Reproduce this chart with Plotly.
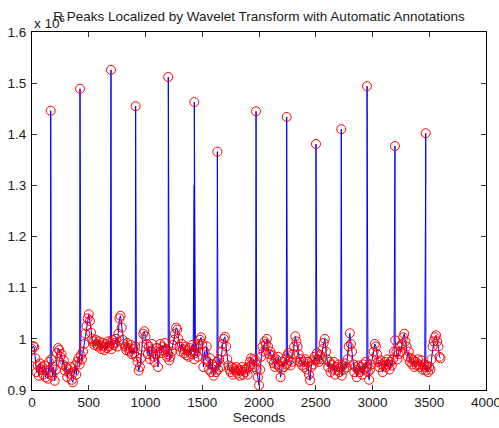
import numpy as np
import plotly.graph_objects as go

# Baseline signal (x 10^6), sampled every 10 seconds from 0 to 3600 s
sample_step = 10
base_values = [
    0.980, 0.986, 0.984, 0.962, 0.935, 0.948, 0.928, 0.952, 0.940, 0.945,
    0.930, 0.948, 0.925, 0.938, 0.922, 0.955, 0.935, 0.960, 0.928, 0.945,
    0.918, 0.940, 0.972, 0.982, 0.978, 0.965, 0.970, 0.950, 0.958, 0.938,
    0.945, 0.925, 0.940, 0.932, 0.945, 0.920, 0.915, 0.935, 0.948, 0.930,
    0.955, 0.962, 0.950, 0.968, 0.960, 0.975, 0.990, 1.010, 1.025, 1.040,
    1.048, 1.035, 1.012, 1.000, 0.995, 0.988, 0.998, 0.990, 0.985, 0.995,
    0.988, 0.980, 0.992, 0.985, 0.978, 0.990, 0.982, 0.995, 0.986, 0.992,
    0.980, 0.998, 0.988, 0.992, 1.000, 0.985, 1.010, 1.040, 1.045, 1.022,
    0.998, 0.990, 0.985, 0.978, 0.992, 0.982, 0.975, 0.988, 0.970, 0.980,
    0.972, 0.985, 0.965, 0.955, 0.938, 0.945, 0.962, 0.985, 1.010, 1.015,
    1.005, 0.990, 0.970, 0.985, 0.960, 0.975, 0.990, 0.965, 0.955, 0.970,
    0.982, 0.945, 0.975, 0.990, 0.972, 0.985, 0.978, 0.992, 0.980, 0.965,
    0.970, 0.958, 0.965, 0.975, 0.988, 0.998, 1.010, 1.022, 1.018, 1.000,
    0.985, 0.975, 0.990, 0.980, 0.972, 0.985, 0.968, 0.978, 0.965, 0.982,
    0.970, 0.988, 0.975, 0.960, 0.972, 0.985, 0.965, 0.990, 0.998, 1.003,
    0.990, 0.945, 0.975, 0.960, 0.985, 0.955, 0.940, 0.962, 0.935, 0.950,
    0.928, 0.945, 0.935, 0.955, 0.940, 0.960, 0.945, 0.975, 0.990, 1.000,
    1.004, 0.985, 0.960, 0.948, 0.940, 0.935, 0.945, 0.930, 0.942, 0.938,
    0.945, 0.932, 0.940, 0.928, 0.938, 0.945, 0.930, 0.940, 0.935, 0.942,
    0.930, 0.945, 0.955, 0.962, 0.950, 0.960, 0.945, 0.958, 0.940, 0.925,
    0.909, 0.940, 0.965, 0.985, 0.975, 0.995, 0.990, 1.000, 0.985, 0.970,
    0.975, 0.960, 0.968, 0.952, 0.945, 0.960, 0.950, 0.965, 0.945, 0.925,
    0.940, 0.955, 0.945, 0.960, 0.950, 0.968, 0.972, 0.958, 0.948, 0.955,
    0.970, 0.985, 1.005, 0.995, 0.985, 0.970, 0.955, 0.960, 0.948, 0.955,
    0.945, 0.960, 0.940, 0.955, 0.930, 0.919, 0.945, 0.958, 0.950, 0.965,
    0.958, 0.972, 0.960, 0.955, 0.968, 0.960, 0.980, 0.992, 1.000, 0.975,
    0.960, 0.945, 0.955, 0.935, 0.950, 0.940, 0.955, 0.930, 0.945, 0.938,
    0.950, 0.935, 0.945, 0.928, 0.948, 0.940, 0.952, 0.945, 0.960, 0.985,
    1.011, 0.990, 0.975, 0.950, 0.935, 0.945, 0.925, 0.940, 0.948, 0.935,
    0.945, 0.930, 0.950, 0.940, 0.955, 0.945, 0.935, 0.920, 0.940, 0.950,
    0.960, 0.975, 0.990, 0.985, 0.970, 0.955, 0.945, 0.958, 0.950, 0.935,
    0.948, 0.955, 0.945, 0.960, 0.950, 0.940, 0.955, 0.948, 0.960, 0.975,
    0.997, 0.975, 0.960, 0.970, 0.985, 0.975, 0.990, 1.003, 1.010, 0.995,
    0.985, 0.965, 0.975, 0.955, 0.962, 0.950, 0.958, 0.945, 0.955, 0.948,
    0.960, 0.950, 0.945, 0.958, 0.940, 0.950, 0.945, 0.938, 0.948, 0.935,
    0.945, 0.940, 0.960, 0.985, 0.995, 1.003, 1.007, 0.995, 0.985, 0.965,
    0.962,
]

# R peaks (seconds, value x 10^6) and the shoulder level of each spike
peak_times = [165, 423, 696, 913, 1201, 1430, 1633, 1974, 2244, 2502, 2725, 2952, 3198, 3469]
peak_values = [1.446, 1.489, 1.526, 1.455, 1.512, 1.463, 1.366, 1.445, 1.434, 1.381, 1.410, 1.494, 1.377, 1.402]
shoulder_values = [1.267, 1.400, 1.334, 1.369, 1.447, 1.300, 1.350, 1.320, 1.407, 1.370, 1.230, 1.454, 1.370, 1.322]

base_times = [i * sample_step for i in range(len(base_values))]

# Blue signal: baseline with spikes merged in time order
pts = list(zip(base_times, base_values))
for tp, pv, sv in zip(peak_times, peak_values, shoulder_values):
    pts.append((tp - 0.5, sv))
    pts.append((tp, pv))
pts.sort(key=lambda p: p[0])
sig_t = [p[0] for p in pts]
sig_v = [p[1] for p in pts]

# Red annotations: baseline samples plus R peaks
ann_t = base_times + peak_times
ann_v = base_values + peak_values

fig = go.Figure()
fig.add_trace(go.Scatter(
    x=sig_t, y=sig_v, mode="lines",
    line=dict(color="#0000ff", width=1),
    hoverinfo="skip", showlegend=False,
))
fig.add_trace(go.Scatter(
    x=ann_t, y=ann_v, mode="markers",
    marker=dict(symbol="circle-open", size=9, color="#ff0000", line=dict(width=1, color="#ff0000")),
    showlegend=False,
))

font = dict(family="Liberation Sans, Arial, sans-serif", size=13.5, color="#1a1a1a")

fig.update_layout(
    width=499, height=428,
    margin=dict(l=32, r=13, t=32, b=38, autoexpand=False),
    paper_bgcolor="white", plot_bgcolor="white",
    font=font,
    title=dict(
        text="R Peaks Localized by Wavelet Transform with Automatic Annotations",
        x=0.519, xanchor="center", y=1 - 16 / 428, yanchor="middle",
        font=dict(family="Liberation Sans, Arial, sans-serif", size=13.5, color="#1a1a1a"),
    ),
    xaxis=dict(
        range=[0, 4000], dtick=500, tick0=0,
        ticks="inside", ticklen=5, tickcolor="#333",
        showline=True, linecolor="black", linewidth=1, mirror="ticks",
        showgrid=False, zeroline=False, automargin=False,
        ticklabeloverflow="allow",
        title=dict(text="Seconds", standoff=2, font=font),
    ),
    yaxis=dict(
        range=[0.9, 1.6], dtick=0.1, tick0=0.9,
        ticks="inside", ticklen=5, tickcolor="#333",
        showline=True, linecolor="black", linewidth=1, mirror="ticks",
        showgrid=False, zeroline=False, automargin=False,
        ticklabeloverflow="allow",
        ticklabelstandoff=2,
    ),
    annotations=[dict(
        text="x 10<sup>6</sup>", xref="paper", yref="paper",
        x=0, y=1, xanchor="left", yanchor="bottom", yshift=-1,
        showarrow=False, font=font,
    )],
)

fig.write_html(
    "out.html",
    config={"displayModeBar": False},
    post_script="document.body.style.margin='0px';document.body.style.overflow='hidden';",
)
